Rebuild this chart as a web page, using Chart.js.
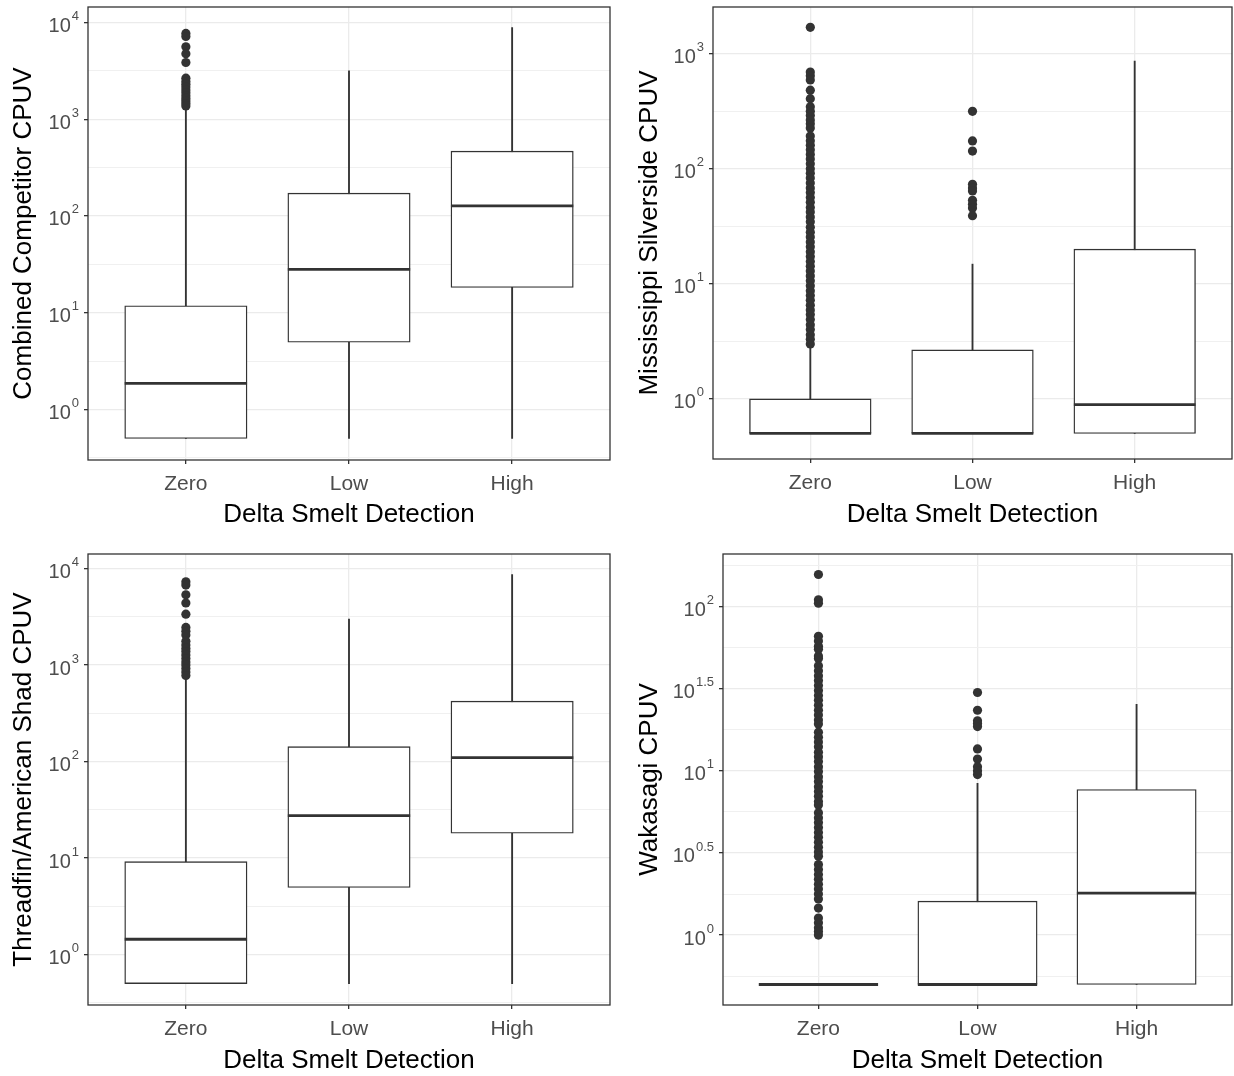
<!DOCTYPE html>
<html>
<head>
<meta charset="utf-8">
<script src="https://cdn.jsdelivr.net/npm/chart.js@4"></script>
<style>
  html, body { margin: 0; padding: 0; background: #fff; }
  body { width: 1234px; height: 1076px; position: relative; overflow: hidden; }
  canvas { position: absolute; }
</style>
</head>
<body>
<canvas id="c1" width="617" height="538" style="left:0;top:0"></canvas>
<canvas id="c2" width="617" height="538" style="left:617px;top:0"></canvas>
<canvas id="c3" width="617" height="538" style="left:0;top:538px"></canvas>
<canvas id="c4" width="617" height="538" style="left:617px;top:538px"></canvas>
<script>
// categories on the x axis of every panel
const categories = ['Zero', 'Low', 'High'];

// Combined Competitor CPUV
const compWhiskerLow = [0.5, 0.5, 0.5];
const compQ1 = [0.5, 4.94, 18.2];
const compMedian = [1.86, 28, 127];
const compQ3 = [11.8, 172, 468];
const compWhiskerHigh = [1290, 3150, 8850];
const compOutliersZero = [7700, 7150, 5600, 4750, 3850, 2650, 2450, 2300, 2150, 2000, 1880, 1750, 1640, 1540, 1450, 1370];
const compOutliersLow = [];
const compOutliersHigh = [];
const compYExps = [0, 1, 2, 3, 4];

// Mississippi Silverside CPUV
const silvWhiskerLow = [0.5, 0.5, 0.5];
const silvQ1 = [0.5, 0.5, 0.5];
const silvMedian = [0.5, 0.5, 0.89];
const silvQ3 = [1.0, 2.66, 20];
const silvWhiskerHigh = [2.8, 14.8, 860];
const silvOutliersZero = [1690, 690, 640, 590, 480, 405, 345, 315, 290, 265, 245, 225,
  192, 175, 160, 146, 133, 121, 110, 100, 91, 83, 75, 68, 62, 56, 51, 46, 42, 38, 34.5,
  31, 28, 25.5, 23, 21, 19, 17.2, 15.6, 14.2, 12.9, 11.7, 10.6, 9.6, 8.7, 7.9, 7.2, 6.5,
  5.9, 5.4, 4.9, 4.4, 4.0, 3.6, 3.3, 3.0];
const silvOutliersLow = [315, 174, 142, 73, 68, 64, 53, 49, 45.5, 39];
const silvOutliersHigh = [];
const silvYExps = [0, 1, 2, 3];

// Threadfin/American Shad CPUV
const shadWhiskerLow = [0.5, 0.5, 0.5];
const shadQ1 = [0.5, 4.95, 18.1];
const shadMedian = [1.44, 27.5, 110];
const shadQ3 = [9.2, 143, 424];
const shadWhiskerHigh = [740, 3000, 8700];
const shadOutliersZero = [7300, 6750, 5350, 4400, 3370, 2460, 2240, 2050, 1770, 1620, 1490, 1380, 1270, 1170, 1080, 1000, 920, 850, 780];
const shadOutliersLow = [];
const shadOutliersHigh = [];
const shadYExps = [0, 1, 2, 3, 4];

// Wakasagi CPUV
const wakWhiskerLow = [0.5, 0.5, 0.5];
const wakQ1 = [0.5, 0.5, 0.5];
const wakMedian = [0.5, 0.5, 1.8];
const wakQ3 = [0.5, 1.61, 7.7];
const wakWhiskerHigh = [0.5, 8.4, 25.4];
const wakOutliersZero = [157, 110, 105, 66, 61.7, 57.5, 55, 50, 48.4, 43.6, 40.7, 38, 35.5,
  33.1, 30.9, 28.8, 26.9, 25.1, 23.4, 21.9, 20.4, 19.3, 17.2, 16, 15, 14, 13, 12.2, 11.4,
  10.6, 9.9, 9.2, 8.6, 8.0, 7.5, 7.0, 6.5, 6.2, 5.56, 5.19, 4.84, 4.52, 4.22, 3.94, 3.67,
  3.43, 3.2, 3.02, 2.69, 2.51, 2.34, 2.19, 2.04, 1.91, 1.78, 1.66, 1.46, 1.27, 1.19, 1.11,
  1.05, 1.0];
const wakOutliersLow = [30, 23.4, 20.2, 19.4, 18.6, 13.6, 11.8, 10.6, 10, 9.5];
const wakOutliersHigh = [];
const wakYExps = [0, 0.5, 1, 1.5, 2];

const FONT = "'Liberation Sans', Arial, sans-serif";
const INK = '#333333';

// frame round the panel, like theme_bw
const framePlugin = {
  id: 'frame',
  afterDraw(chart) {
    const { ctx, chartArea: a } = chart;
    ctx.save();
    ctx.strokeStyle = INK;
    ctx.lineWidth = 1.3;
    ctx.strokeRect(a.left, a.top, a.width, a.height);
    ctx.restore();
  }
};

// y labels as 10 with a raised exponent
const expLabels = {
  id: 'expLabels',
  afterDraw(chart, args, opts) {
    const { ctx, chartArea } = chart;
    const ys = chart.scales.y;
    ctx.save();
    ctx.fillStyle = '#4D4D4D';
    ctx.textBaseline = 'middle';
    ctx.textAlign = 'right';
    opts.exps.forEach(e => {
      const py = ys.getPixelForValue(Math.pow(10, e));
      const sup = String(e);
      const right = chartArea.left - 9;
      ctx.font = '13px ' + FONT;
      const supW = ctx.measureText(sup).width;
      ctx.fillText(sup, right, py - 6);
      ctx.font = '20px ' + FONT;
      ctx.fillText('10', right - supW - 1, py + 4);
    });
    ctx.restore();
  }
};

function buildPanel(id, p) {
  const canvasW = 617, canvasH = 538;
  const plotW = p.rect.right - p.rect.left;
  const boxW = plotW / 3.2 * 0.75;

  const outliers = [p.outZero, p.outLow, p.outHigh];
  const all = [...p.lo, ...p.q1, ...p.hi, ...outliers.flat()];
  const lmin = Math.log10(Math.min(...all));
  const lmax = Math.log10(Math.max(...all));
  const pad = (lmax - lmin) * 0.05;
  const step = p.exps[1] - p.exps[0];
  const half = step / 2;
  const gridExps = [];
  for (let k = Math.ceil((lmin - pad) / half); k * half <= lmax + pad; k++) gridExps.push(k * half);
  const isMajor = e => Math.abs(e / step - Math.round(e / step)) < 1e-6;

  const xs = categories.map((c, i) => i + 1);
  const outlierPoints = [];
  outliers.forEach((arr, i) => arr.forEach(v => outlierPoints.push({ x: i + 1, y: v })));

  const scaleBottom = p.xTitleY + 17.6;
  const xHeight = scaleBottom - p.rect.bottom;

  new Chart(document.getElementById(id), {
    type: 'bar',
    data: {
      datasets: [
        {
          type: 'line',
          data: outlierPoints,
          showLine: false,
          pointRadius: 4.6,
          pointBackgroundColor: INK,
          pointBorderWidth: 0,
          order: 1
        },
        {
          type: 'line',
          data: xs.map((x, i) => ({ x, y: p.med[i] })),
          showLine: false,
          pointStyle: 'line',
          pointRadius: boxW / 2,
          pointBorderColor: INK,
          pointBorderWidth: 2.8,
          order: 2
        },
        {
          data: xs.map((x, i) => ({ x, y: [p.q1[i], p.q3[i]] })),
          backgroundColor: '#ffffff',
          borderColor: INK,
          borderWidth: 1.4,
          borderSkipped: false,
          barThickness: boxW,
          grouped: false,
          order: 3
        },
        {
          data: xs.map((x, i) => ({ x, y: [p.lo[i], p.hi[i]] })),
          backgroundColor: INK,
          borderWidth: 0,
          barThickness: 1.2,
          grouped: false,
          order: 4
        }
      ]
    },
    options: {
      responsive: false,
      animation: false,
      events: [],
      layout: {
        autoPadding: false,
        padding: {
          left: 0,
          top: p.rect.top - p.top,
          right: p.left + canvasW - p.rect.right,
          bottom: p.top + canvasH - scaleBottom
        }
      },
      plugins: {
        legend: { display: false },
        tooltip: { enabled: false },
        expLabels: { exps: p.exps }
      },
      scales: {
        x: {
          type: 'linear',
          offset: false,
          min: 0.4,
          max: 3.6,
          afterBuildTicks: s => { s.ticks = xs.map(v => ({ value: v })); },
          afterFit: s => { s.height = xHeight; },
          ticks: {
            callback: v => categories[v - 1],
            color: '#4D4D4D',
            font: { family: FONT, size: 21 },
            padding: 8,
            maxRotation: 0,
            autoSkip: false
          },
          grid: { offset: false, color: '#EBEBEB', lineWidth: 1.3, tickColor: INK, tickLength: 4 },
          border: { display: false },
          title: {
            display: true,
            text: 'Delta Smelt Detection',
            color: '#000000',
            font: { family: FONT, size: 26 },
            padding: { top: 0, bottom: 0 }
          }
        },
        y: {
          type: 'logarithmic',
          min: Math.pow(10, lmin - pad),
          max: Math.pow(10, lmax + pad),
          afterBuildTicks: s => {
            s.ticks = gridExps.map(e => ({ value: Math.pow(10, e), major: isMajor(e) }));
          },
          afterFit: s => { s.width = p.rect.left - p.left; },
          ticks: { display: false },
          grid: {
            color: c => (c.tick && c.tick.major) ? '#EBEBEB' : '#F0F0F0',
            lineWidth: c => (c.tick && c.tick.major) ? 1.3 : 1,
            tickColor: c => (c.tick && c.tick.major) ? INK : 'rgba(0,0,0,0)',
            tickLength: 4
          },
          border: { display: false },
          title: {
            display: true,
            text: p.yTitle,
            color: '#000000',
            font: { family: FONT, size: 26 },
            padding: { top: p.yTitleX - p.left - 15.6, bottom: 0 }
          }
        }
      }
    },
    plugins: [expLabels, framePlugin]
  });
}

buildPanel('c1', {
  left: 0, top: 0,
  rect: { left: 88, top: 7, right: 610, bottom: 460 },
  yTitleX: 24, xTitleY: 513,
  yTitle: 'Combined Competitor CPUV',
  lo: compWhiskerLow, q1: compQ1, med: compMedian, q3: compQ3, hi: compWhiskerHigh,
  outZero: compOutliersZero, outLow: compOutliersLow, outHigh: compOutliersHigh,
  exps: compYExps
});

buildPanel('c2', {
  left: 617, top: 0,
  rect: { left: 713, top: 7, right: 1232, bottom: 459 },
  yTitleX: 650, xTitleY: 513,
  yTitle: 'Mississippi Silverside CPUV',
  lo: silvWhiskerLow, q1: silvQ1, med: silvMedian, q3: silvQ3, hi: silvWhiskerHigh,
  outZero: silvOutliersZero, outLow: silvOutliersLow, outHigh: silvOutliersHigh,
  exps: silvYExps
});

buildPanel('c3', {
  left: 0, top: 538,
  rect: { left: 88, top: 554, right: 610, bottom: 1005 },
  yTitleX: 24, xTitleY: 1059,
  yTitle: 'Threadfin/American Shad CPUV',
  lo: shadWhiskerLow, q1: shadQ1, med: shadMedian, q3: shadQ3, hi: shadWhiskerHigh,
  outZero: shadOutliersZero, outLow: shadOutliersLow, outHigh: shadOutliersHigh,
  exps: shadYExps
});

buildPanel('c4', {
  left: 617, top: 538,
  rect: { left: 723, top: 554, right: 1232, bottom: 1005 },
  yTitleX: 650, xTitleY: 1059,
  yTitle: 'Wakasagi CPUV',
  lo: wakWhiskerLow, q1: wakQ1, med: wakMedian, q3: wakQ3, hi: wakWhiskerHigh,
  outZero: wakOutliersZero, outLow: wakOutliersLow, outHigh: wakOutliersHigh,
  exps: wakYExps
});
</script>
</body>
</html>
